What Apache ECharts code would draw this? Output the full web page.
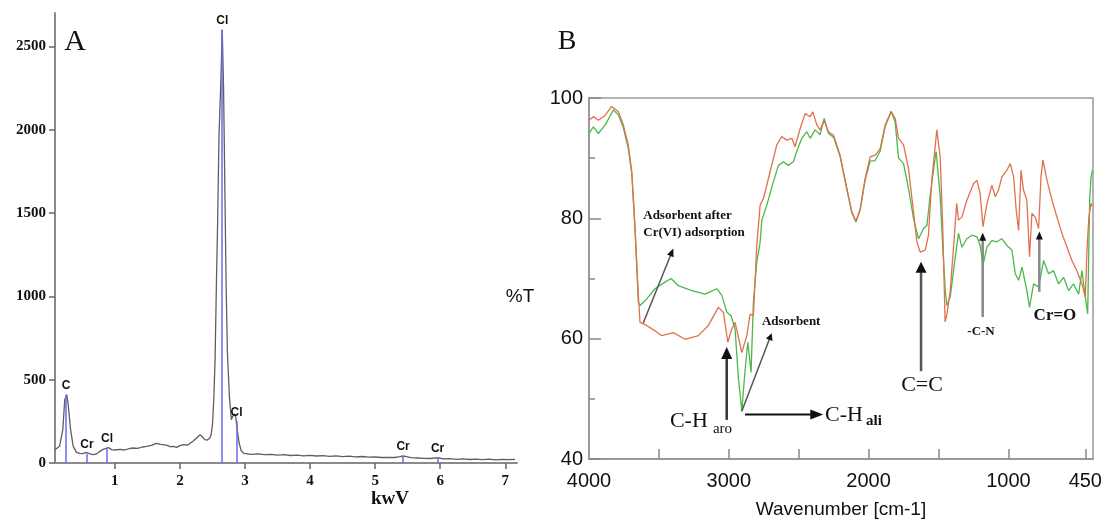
<!DOCTYPE html>
<html><head><meta charset="utf-8">
<script src="https://cdn.jsdelivr.net/npm/echarts@6/dist/echarts.min.js"></script>
<style>html,body{margin:0;padding:0;background:#fff}#c{width:1112px;height:530px}</style>
</head><body><div id="c"></div>
<script>
// ---------- Panel A : EDX spectrum ----------
const edxSpectrum = [
[0.08,80],[0.10,70],[0.15,100],[0.20,200],[0.23,380],[0.26,410],[0.28,360],[0.32,200],[0.36,100],[0.41,64],[0.46,58],[0.51,56],[0.56,64],[0.62,55],[0.67,50],[0.72,55],[0.77,70],[0.82,82],[0.85,90],[0.90,92],[0.95,80],[1.00,78],[1.08,82],[1.15,78],[1.22,86],[1.28,90],[1.35,88],[1.42,96],[1.49,100],[1.56,106],[1.64,118],[1.70,112],[1.74,110],[1.80,106],[1.85,98],[1.90,100],[1.95,94],[2.00,104],[2.05,110],[2.12,108],[2.20,130],[2.26,152],[2.31,170],[2.35,155],[2.38,140],[2.42,138],[2.46,150],[2.48,170],[2.50,230],[2.52,380],[2.54,620],[2.56,1060],[2.58,1460],[2.60,1960],[2.63,2300],[2.65,2600],[2.67,2260],[2.69,1660],[2.71,1060],[2.73,660],[2.76,400],[2.79,260],[2.81,280],[2.84,295],[2.86,270],[2.88,200],[2.91,120],[2.94,75],[2.98,58],
[3.1,52],[3.2,55],[3.3,50],[3.4,52],[3.5,47],[3.6,50],[3.7,45],[3.8,47],[3.9,43],[4.0,46],[4.1,42],[4.2,44],[4.3,40],[4.4,43],[4.5,38],[4.6,41],[4.7,37],[4.8,39],[4.9,35],[5.0,36],[5.1,33],[5.2,34],[5.3,33],[5.38,38],[5.43,42],[5.48,38],[5.55,32],[5.65,30],[5.75,28],[5.85,27],[5.93,31],[5.98,30],[6.05,25],[6.15,26],[6.25,22],[6.35,25],[6.45,21],[6.55,23],[6.65,20],[6.75,23],[6.85,19],[6.95,22],[7.05,20],[7.15,22]
];
const peakNames = ['C','Cr','Cl','Cl','Cl','Cr','Cr'];
const peakEnergy = [0.25,0.57,0.88,2.65,2.87,5.43,5.96];
const peakHeight = [410,55,92,2600,250,42,30];
const xTicksA = [1,2,3,4,5,6,7];
const yTicksA = [0,500,1000,1500,2000,2500];

// ---------- Panel B : FTIR ----------
const ftirAdsorbent = [
[4000,94.1],[3969,95.2],[3933,94.1],[3885,95.5],[3826,98],[3790,97.2],[3754,95],[3719,91.6],[3694,87.5],[3671,78.5],[3647,66.1],[3635,65.5],[3587,66.6],[3528,68.3],[3456,69.4],[3413,70],[3361,68.8],[3265,68],[3170,67.4],[3086,68.3],[3050,67.2],[3014,64.4],[2984,63.8],[2955,61.6],[2931,53.3],[2907,48],[2883,55],[2864,59.4],[2841,54.4],[2824,66.1],[2800,72.7],[2776,76],[2764,79.7],[2728,82.2],[2681,86.1],[2645,88.8],[2609,89.4],[2574,88.8],[2538,89.4],[2514,91.1],[2478,93.3],[2442,94.4],[2418,93.3],[2383,94.7],[2347,93.9],[2318,96.6],[2287,94.1],[2251,93.5],[2204,90.3],[2156,84.8],[2120,80.9],[2091,79.4],[2060,81.4],[2025,86.3],[1989,89.5],[1953,89.6],[1917,91.2],[1882,95.2],[1839,97.7],[1810,96],[1786,90],[1750,89.1],[1715,85],[1679,80],[1643,76.6],[1607,78.3],[1583,78.8],[1560,83.8],[1524,90],[1517,91.1],[1488,83.6],[1469,75],[1452,68],[1440,65.5],[1416,67],[1380,73.6],[1357,77.5],[1333,75.2],[1297,76.6],[1261,77.2],[1225,76.9],[1202,75.5],[1182,72.2],[1154,75.2],[1118,76.3],[1082,76.1],[1047,76.6],[1011,75.5],[975,74.7],[951,70.8],[927,69.7],[903,71.9],[868,68],[849,65.2],[820,69.1],[784,68.6],[748,73],[713,70.8],[677,71.3],[641,69.1],[605,70.2],[570,68],[534,69.1],[498,67.4],[474,71.3],[450,66.9],[433,64.1],[419,83],[409,86.9],[398,88]
];
const ftirAfterCr = [
[4000,96.3],[3969,96.9],[3933,96.3],[3885,97.1],[3838,98.6],[3790,97.7],[3754,95.5],[3719,92.2],[3694,87.7],[3671,78.3],[3647,67.2],[3635,62.7],[3587,62.2],[3528,61.3],[3480,60.5],[3397,61.0],[3313,59.9],[3218,60.5],[3146,62.2],[3075,65.2],[3039,64.4],[3007,59.4],[2979,61.6],[2955,62.7],[2907,57.7],[2871,60.5],[2848,64.1],[2824,63.8],[2800,75.5],[2776,82.2],[2752,83.3],[2705,87.7],[2657,92.2],[2621,93.6],[2585,93.0],[2549,93.3],[2526,91.9],[2490,94.9],[2454,97.4],[2418,96.9],[2399,97.7],[2370,95.5],[2347,94.7],[2318,96.3],[2287,94.4],[2251,93.8],[2204,90.5],[2156,85.0],[2120,81.1],[2091,79.5],[2060,81.6],[2025,86.6],[1989,90.2],[1953,90.5],[1917,91.6],[1882,95.5],[1839,97.8],[1810,96.6],[1786,93.3],[1750,92.2],[1715,88.3],[1679,81.1],[1655,76.1],[1631,74.4],[1595,74.7],[1572,77.2],[1547,86.6],[1512,94.7],[1488,90.2],[1469,78],[1453,62.8],[1440,64],[1416,68],[1390,76],[1370,82.5],[1357,79.7],[1333,80.2],[1297,83],[1249,85.8],[1225,86.3],[1202,84.1],[1182,78.6],[1154,82.4],[1118,85.5],[1094,83.6],[1071,84.7],[1047,86.9],[1011,88],[987,89.1],[963,86.9],[944,81.3],[927,78],[910,88],[892,84.7],[868,83],[849,73.6],[832,80.8],[808,80.2],[784,78.3],[767,86.9],[753,89.7],[724,86.3],[688,83],[653,80.2],[617,77.5],[581,75.2],[546,73],[510,71.3],[474,69.1],[450,66.9],[438,74.7],[425,80],[410,82.5],[400,82]
];
const xLabelsB = [4000,3000,2000,1000,450];
const xTicksB = [3500,3000,2500,2000,1500,1000,450];

// annotations (data coordinates of panel B)
const annB = {
  afterArrow: [[3612,62.6],[3397,75.0]], afterText: [3612,79.1],
  adsArrow: [[2908,47.9],[2693,60.9]], adsText: [2763,62.8],
  chAroArrow: [[3015,46.5],[3015,58.6]], chAroText: [3421,46.2],
  chAliArrow: [[2884,47.4],[2324,47.4]], chAliText: [2312,47.2],
  ccArrow: [[1625,54.6],[1625,72.8]], ccText: [1618,52.2],
  cnArrow: [[1184,63.6],[1184,77.6]], cnText: [1196,61.1],
  croArrow: [[779,67.8],[779,77.8]], croText: [667,63.9]
};

const SERIF = "'Liberation Serif','Times New Roman',serif";
const SANS = "'Liberation Sans',Arial,sans-serif";
const plain = v => String(v);

const chart = echarts.init(document.getElementById('c'), null, {renderer:'canvas'});

const option = {
  animation:false,
  backgroundColor:'#fff',
  grid:[
    {left:55, top:13, width:462, height:450},
    {left:589, top:98, width:504, height:361, show:true, borderColor:'#9a9a9a', borderWidth:1.5, backgroundColor:'transparent'}
  ],
  xAxis:[
    {gridIndex:0, type:'value', min:0.08, max:7.18,
     axisLine:{lineStyle:{color:'#8a8a8a', width:2}},
     axisTick:{customValues:xTicksA, length:6, lineStyle:{color:'#666', width:1.5}},
     axisLabel:{customValues:xTicksA, formatter:plain, margin:11, fontFamily:SERIF, fontWeight:'bold', fontSize:15, color:'#111'},
     splitLine:{show:false}},
    {gridIndex:1, type:'value', min:395, max:4000, inverse:true,
     axisLine:{lineStyle:{color:'#9a9a9a', width:2}},
     axisTick:{customValues:xTicksB, inside:true, length:10, lineStyle:{color:'#888', width:1.5}},
     axisLabel:{customValues:xLabelsB, formatter:plain, margin:12, fontFamily:SANS, fontSize:20, color:'#111'},
     splitLine:{show:false}}
  ],
  yAxis:[
    {gridIndex:0, type:'value', min:0, max:2700,
     axisLine:{show:true, lineStyle:{color:'#8a8a8a', width:2}},
     axisTick:{show:true, customValues:yTicksA, length:6, lineStyle:{color:'#666', width:1.5}},
     axisLabel:{customValues:yTicksA, formatter:plain, margin:9, fontFamily:SERIF, fontWeight:'bold', fontSize:15, color:'#111'},
     splitLine:{show:false}},
    {gridIndex:1, type:'value', min:40, max:100, interval:20,
     axisLine:{show:true, lineStyle:{color:'#9a9a9a', width:2}},
     axisTick:{show:true, inside:true, length:12, lineStyle:{color:'#888', width:1.5}},
     minorTick:{show:true, splitNumber:2, length:6, lineStyle:{color:'#888', width:1.5}},
     axisLabel:{formatter:plain, margin:6, fontFamily:SANS, fontSize:20, color:'#111'},
     splitLine:{show:false}}
  ],
  series:[
    {type:'line', xAxisIndex:0, yAxisIndex:0, data:edxSpectrum, symbol:'none',
     lineStyle:{color:'#5e5e5e', width:1.3}, z:3,
     markLine:{silent:true, symbol:['none','none'], animation:false,
       lineStyle:{color:'#6a6af2', width:1.5, type:'solid'},
       label:{show:true, position:'end', distance:3, formatter:'{b}', fontFamily:"'Liberation Sans Narrow','Liberation Sans',Arial,sans-serif", fontWeight:'bold', fontSize:12, color:'#111'},
       emphasis:{disabled:true},
       data: peakNames.map((n,i)=>[{name:n, coord:[peakEnergy[i],0]},{coord:[peakEnergy[i],peakHeight[i]]}])
     }},
    {type:'line', xAxisIndex:1, yAxisIndex:1, data:ftirAdsorbent, symbol:'none',
     lineStyle:{color:'#4cb84a', width:1.3}, z:3},
    {type:'line', xAxisIndex:1, yAxisIndex:1, data:ftirAfterCr, symbol:'none',
     lineStyle:{color:'#e2704f', width:1.3}, z:4}
  ]
};
chart.setOption(option);

function P(p){ return chart.convertToPixel({seriesIndex:2}, p); }
function arrow(a, b, o){
  const p0=P(a), p1=P(b);
  const dx=p1[0]-p0[0], dy=p1[1]-p0[1], L=Math.hypot(dx,dy);
  const ux=dx/L, uy=dy/L, nx=-uy, ny=ux;
  const base=[p1[0]-ux*o.hl, p1[1]-uy*o.hl];
  return [
    {type:'line', shape:{x1:p0[0],y1:p0[1],x2:base[0]+ux*1,y2:base[1]+uy*1}, style:{stroke:o.color, lineWidth:o.w}, z:10},
    {type:'polygon', shape:{points:[p1,[base[0]+nx*o.hw/2,base[1]+ny*o.hw/2],[base[0]-nx*o.hw/2,base[1]-ny*o.hw/2]]}, style:{fill:o.head||'#111'}, z:11}
  ];
}
function txt(p, s, o){
  const q=P(p);
  return {type:'text', x:q[0], y:q[1], z:12, style:Object.assign({text:s, fill:'#111', align:'center', verticalAlign:'middle'}, o)};
}
const g = [];
g.push(...arrow(annB.afterArrow[0], annB.afterArrow[1], {hl:8,hw:7,color:'#555',w:1.5}));
g.push(txt(annB.afterText, 'Adsorbent after\nCr(VI) adsorption', {align:'left', font:"bold 13px "+SERIF, lineHeight:17}));
g.push(...arrow(annB.adsArrow[0], annB.adsArrow[1], {hl:7,hw:7,color:'#555',w:1.5}));
g.push(txt(annB.adsText, 'Adsorbent', {align:'left', font:"bold 13px "+SERIF}));
g.push(...arrow(annB.chAroArrow[0], annB.chAroArrow[1], {hl:12,hw:11,color:'#333',w:2.5}));
(function(){ const q=P(annB.chAroText);
  g.push({type:'text', x:q[0], y:q[1], z:12, style:{text:'C-H', font:"22px "+SERIF, fill:'#111', align:'left', verticalAlign:'middle'}});
  g.push({type:'text', x:q[0]+43, y:q[1]+7, z:12, style:{text:'aro', font:"15px "+SERIF, fill:'#111', align:'left', verticalAlign:'middle'}});
})();
g.push(...arrow(annB.chAliArrow[0], annB.chAliArrow[1], {hl:13,hw:10,color:'#111',w:2}));
(function(){ const q=P(annB.chAliText);
  g.push({type:'text', x:q[0], y:q[1], z:12, style:{text:'C-H', font:"22px "+SERIF, fill:'#111', align:'left', verticalAlign:'middle'}});
  g.push({type:'text', x:q[0]+41, y:q[1]+5, z:12, style:{text:'ali', font:"bold 15px "+SERIF, fill:'#111', align:'left', verticalAlign:'middle'}});
})();
g.push(...arrow(annB.ccArrow[0], annB.ccArrow[1], {hl:11,hw:11,color:'#555',w:2.5}));
g.push(txt(annB.ccText, 'C=C', {font:"22px "+SERIF}));
g.push(...arrow(annB.cnArrow[0], annB.cnArrow[1], {hl:8,hw:7,color:'#888',w:2.5}));
g.push(txt(annB.cnText, '-C-N', {font:"bold 13px "+SERIF}));
g.push(...arrow(annB.croArrow[0], annB.croArrow[1], {hl:8,hw:7,color:'#888',w:2.5}));
g.push(txt(annB.croText, 'Cr=O', {font:"bold 17px "+SERIF, fill:'#111', shadowColor:'rgba(240,140,60,0.9)', shadowBlur:3}));
// panel letters and axis titles
g.push({type:'text', x:75, y:42, style:{text:'A', font:"30px "+SERIF, fill:'#111', align:'center', verticalAlign:'middle'}});
g.push({type:'text', x:567, y:42, style:{text:'B', font:"28px "+SERIF, fill:'#111', align:'center', verticalAlign:'middle'}});
g.push({type:'text', x:390, y:499, style:{text:'kwV', font:"bold 19px "+SERIF, fill:'#111', align:'center', verticalAlign:'middle'}});
g.push({type:'text', x:841, y:510, style:{text:'Wavenumber [cm-1]', font:"19px "+SANS, fill:'#111', align:'center', verticalAlign:'middle'}});
g.push({type:'text', x:520, y:297, style:{text:'%T', font:"19px "+SANS, fill:'#111', align:'center', verticalAlign:'middle'}});
chart.setOption({graphic:{elements:g}});
</script></body></html>
